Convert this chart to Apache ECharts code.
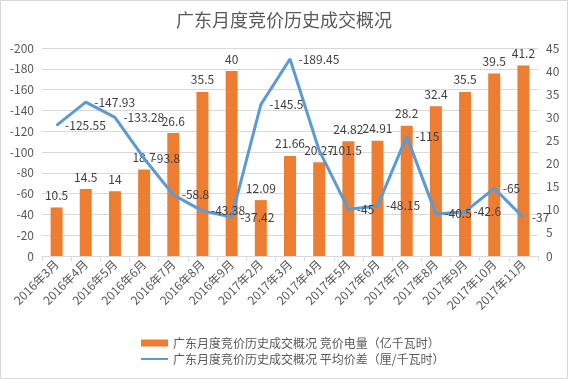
<!DOCTYPE html>
<html><head><meta charset="utf-8">
<script src="https://cdn.jsdelivr.net/npm/echarts@6/dist/echarts.min.js"></script>
<style>html,body{margin:0;padding:0;background:#fff}#c{width:568px;height:379px}</style>
</head><body><div id="c"></div>
<script>
const categories = ["2016年3月","2016年4月","2016年5月","2016年6月","2016年7月","2016年8月","2016年9月","2017年2月","2017年3月","2017年4月","2017年5月","2017年6月","2017年7月","2017年8月","2017年9月","2017年10月","2017年11月"];
const volume = [10.5,14.5,14,18.7,26.6,35.5,40,12.09,21.66,20.27,24.82,24.91,28.2,32.4,35.5,39.5,41.2];
const priceDiff = [-125.55,-147.93,-133.28,-93.8,-58.8,-43.38,-37.42,-145.5,-189.45,-101.5,-45,-48.15,-115,-40.5,-42.6,-65,-37];
const titleText = "广东月度竞价历史成交概况";
const barName = "广东月度竞价历史成交概况 竞价电量（亿千瓦时）";
const lineName = "广东月度竞价历史成交概况 平均价差（厘/千瓦时）";

const font = "'Noto Sans CJK SC', 'Noto Sans', sans-serif";
const chart = echarts.init(document.getElementById('c'), null, {renderer:'canvas'});
chart.setOption({
  animation:false,
  backgroundColor:'#fff',
  textStyle:{fontFamily:font},
  title:{text:titleText,left:'center',top:6,textStyle:{fontSize:18,fontWeight:'normal',color:'#595959',fontFamily:font}},
  grid:{left:42,right:30,top:48,bottom:123},
  legend:{orient:'vertical',left:136,top:332,itemGap:4,itemWidth:27,itemHeight:7,
    textStyle:{fontSize:12,color:'#595959',fontFamily:font},
    data:[{name:barName,icon:'rect'},
          {name:lineName,icon:'path://M0,2.5H27V4.5H0Z',itemStyle:{color:'#5B9BD5'}}]},
  xAxis:{type:'category',data:categories,
    axisLine:{lineStyle:{color:'#d9d9d9'}},
    axisTick:{show:true,length:5,lineStyle:{color:'#d9d9d9'}},
    axisLabel:{rotate:45,fontSize:12,color:'#595959',margin:6,interval:0,fontFamily:font}},
  yAxis:[
    {type:'value',min:-200,max:0,interval:20,inverse:true,
      axisLine:{show:false},axisTick:{show:false},
      axisLabel:{fontSize:12,color:'#595959',margin:8,fontFamily:font},
      splitLine:{lineStyle:{color:'#d9d9d9'}}},
    {type:'value',min:0,max:45,interval:5,position:'right',
      axisLine:{show:false},axisTick:{show:false},
      axisLabel:{fontSize:12,color:'#595959',margin:8,fontFamily:font},
      splitLine:{show:false}}
  ],
  series:[
    {name:barName,type:'bar',yAxisIndex:1,data:volume,barWidth:12,
      itemStyle:{color:'#ED7D31'},
      label:{show:true,position:'top',fontSize:12,color:'#404040',distance:6,fontFamily:font}},
    {name:lineName,type:'line',yAxisIndex:0,data:priceDiff,symbol:'circle',symbolSize:1,showSymbol:true,
      lineStyle:{color:'#5B9BD5',width:3},itemStyle:{color:'#5B9BD5'},
      label:{show:true,position:'right',fontSize:12,color:'#404040',distance:8,fontFamily:font}}
  ],
  graphic:[{type:'rect',shape:{x:0.5,y:0.5,width:567,height:378},style:{fill:'none',stroke:'#d9d9d9',lineWidth:1},silent:true}]
});
</script></body></html>
